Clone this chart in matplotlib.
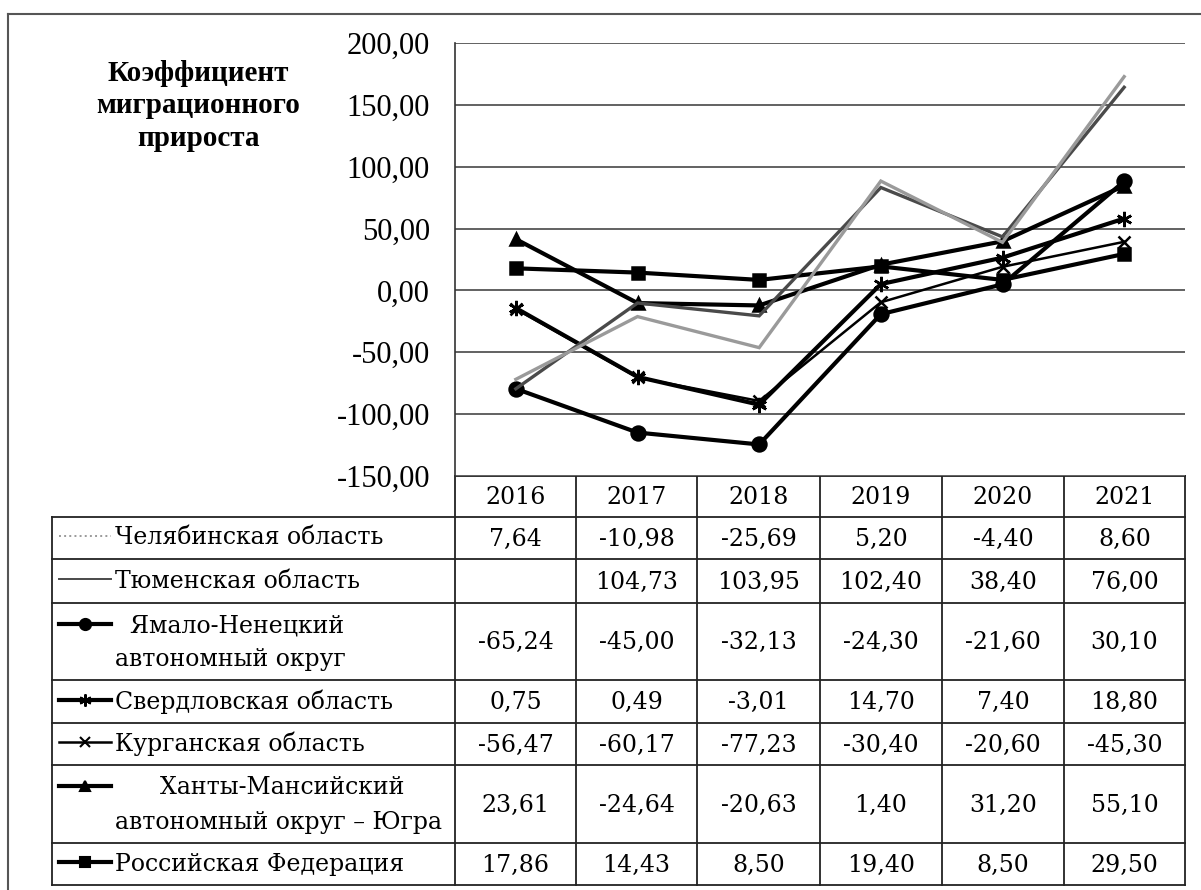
# ============================================================
# STACKED MIGRATION GROWTH CHART WITH DATA TABLE
# ============================================================

import numpy as np
import matplotlib.pyplot as plt
from matplotlib.lines import Line2D


# ============================================================
# 1. DATA
# ============================================================

YEARS = ["2016", "2017", "2018", "2019", "2020", "2021"]

REGIONS = [
    "Челябинская область",
    "Тюменская область",
    "  Ямало-Ненецкий\nавтономный округ",
    "Свердловская область",
    "Курганская область",
    "      Ханты-Мансийский\nавтономный округ – Югра",
    "Российская Федерация",
]

chelyabinsk = [7.64, -10.98, -25.69, 5.20, -4.40, 8.60]
tyumen = [np.nan, 104.73, 103.95, 102.40, 38.40, 76.00]
yamal = [-65.24, -45.00, -32.13, -24.30, -21.60, 30.10]
sverdlovsk = [0.75, 0.49, -3.01, 14.70, 7.40, 18.80]
kurgan = [-56.47, -60.17, -77.23, -30.40, -20.60, -45.30]
khmao = [23.61, -24.64, -20.63, 1.40, 31.20, 55.10]
russia = [17.86, 14.43, 8.50, 19.40, 8.50, 29.50]

SERIES = [chelyabinsk, tyumen, yamal, sverdlovsk, kurgan, khmao, russia]

Y_TICKS = [-150, -100, -50, 0, 50, 100, 150, 200]
TITLE = "Коэффициент\nмиграционного\nприроста"


# ============================================================
# 2. STYLE
# ============================================================

plt.rcParams["font.family"] = ["Liberation Serif", "DejaVu Serif"]
TABLE_FONT = ["DejaVu Serif"]

STYLES = [
    dict(color="#9a9a9a", lw=2.4, marker=None, ms=0),
    dict(color="#4a4a4a", lw=2.4, marker=None, ms=0),
    dict(color="black", lw=3.0, marker="o", ms=10),
    dict(color="black", lw=3.0, marker=(6, 2, 0), ms=11),
    dict(color="black", lw=1.8, marker="x", ms=9),
    dict(color="black", lw=3.0, marker="^", ms=9),
    dict(color="black", lw=3.0, marker="s", ms=9),
]

W, H = 1201, 890
FS = 17

# layout in pixels
PLOT_L, PLOT_R, PLOT_T, PLOT_B = 455, 1185, 43, 476
TABLE_L = 52
COL_EDGES = [455, 576, 697, 820, 942, 1064, 1185]
ROW_EDGES = [476, 517, 559, 603, 680, 723, 765, 843, 885]


def fmt(v):
    if np.isnan(v):
        return ""
    return f"{v:.2f}".replace(".", ",")


# ============================================================
# 3. FIGURE
# ============================================================

fig = plt.figure(figsize=(W / 100, H / 100), dpi=100)

tab = fig.add_axes([0, 0, 1, 1])
tab.set_xlim(0, W)
tab.set_ylim(H, 0)
tab.axis("off")

ax = fig.add_axes([PLOT_L / W, 1 - PLOT_B / H,
                   (PLOT_R - PLOT_L) / W, (PLOT_B - PLOT_T) / H])
ax.set_zorder(2)

# stacked lines (last table row at the bottom of the stack)
x = np.arange(len(YEARS))
cum = np.zeros(len(YEARS))
for vals, st in reversed(list(zip(SERIES, STYLES))):
    cum = cum + np.nan_to_num(np.array(vals, dtype=float))
    ax.plot(x, cum, color=st["color"], lw=st["lw"], marker=st["marker"],
            ms=st["ms"], mew=1.8, mfc=st["color"], mec=st["color"],
            solid_joinstyle="miter", zorder=3)

ax.set_xlim(-0.5, len(YEARS) - 0.5)
ax.set_ylim(-150, 200)
ax.set_yticks(Y_TICKS)
ax.set_yticklabels([fmt(float(t)) for t in Y_TICKS], fontsize=22)
ax.tick_params(axis="y", length=0, pad=18)
ax.set_xticks([])
ax.grid(axis="y", color="#555555", lw=1.3)
ax.set_axisbelow(True)
for s in ["top", "right", "bottom"]:
    ax.spines[s].set_visible(False)
ax.spines["left"].set_color("#333333")
ax.spines["left"].set_linewidth(1.2)

# title
tab.text(198, 60, TITLE, ha="center", va="top", fontsize=21,
         fontweight="bold", linespacing=1.25)

# outer frame
tab.add_line(Line2D([8, W], [14, 14], color="#555555", lw=1.5))
tab.add_line(Line2D([8, 8], [14, H], color="#555555", lw=1.5))


# ============================================================
# 4. DATA TABLE
# ============================================================

LC = "#222222"
# horizontal lines
tab.add_line(Line2D([PLOT_L, PLOT_R], [ROW_EDGES[0]] * 2, color=LC, lw=1.3))
for yy in ROW_EDGES[1:]:
    tab.add_line(Line2D([TABLE_L, PLOT_R], [yy, yy], color=LC, lw=1.3))
# vertical lines
tab.add_line(Line2D([TABLE_L, TABLE_L], [ROW_EDGES[1], ROW_EDGES[-1]],
                    color=LC, lw=1.3))
for xx in COL_EDGES:
    tab.add_line(Line2D([xx, xx], [ROW_EDGES[0], ROW_EDGES[-1]],
                        color=LC, lw=1.3))

# header
for i, yr in enumerate(YEARS):
    cx = (COL_EDGES[i] + COL_EDGES[i + 1]) / 2
    tab.text(cx, (ROW_EDGES[0] + ROW_EDGES[1]) / 2 + 1, yr,
             ha="center", va="center", fontsize=FS, family=TABLE_FONT)

# rows
for r, (name, vals, st) in enumerate(zip(REGIONS, SERIES, STYLES)):
    top, bot = ROW_EDGES[r + 1], ROW_EDGES[r + 2]
    cy = (top + bot) / 2
    lines = name.split("\n")
    if len(lines) == 1:
        line_y = [cy]
    else:
        line_y = [cy - 16, cy + 18]
    key_y = line_y[0] - 2

    for ln, ly in zip(lines, line_y):
        tab.text(115, ly, ln, ha="left", va="center", fontsize=FS,
                 family=TABLE_FONT)

    # legend key
    key_lw = st["lw"] if st["marker"] else 1.4
    tab.add_line(Line2D([59, 111], [key_y, key_y], color=st["color"],
                        lw=key_lw,
                        ls=":" if r == 0 else "-"))
    if st["marker"]:
        tab.add_line(Line2D([85], [key_y], marker=st["marker"],
                            ms=st["ms"] * 0.8, mew=1.5, color=st["color"],
                            mfc=st["color"], mec=st["color"]))

    for i, v in enumerate(vals):
        cx = (COL_EDGES[i] + COL_EDGES[i + 1]) / 2
        tab.text(cx, cy + 1, fmt(v), ha="center", va="center", fontsize=FS,
                 family=TABLE_FONT)

plt.savefig("out.png", dpi=100)
